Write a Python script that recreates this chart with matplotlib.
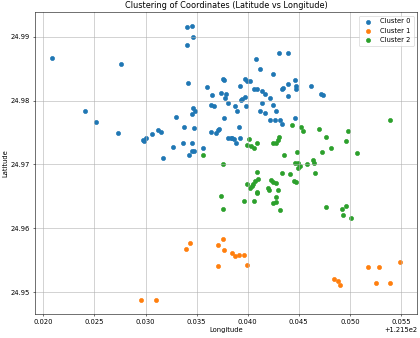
"""Scatter of coordinate clusters (latitude vs longitude)."""

import matplotlib
matplotlib.use("Agg")
import matplotlib.pyplot as plt

# cluster 0
lon0 = [121.52088, 121.52759, 121.53406, 121.53458, 121.53461, 121.53409, 121.53412, 121.53598,
        121.53654, 121.53762, 121.53765, 121.53742, 121.53791, 121.53781, 121.53804, 121.53641,
        121.53667, 121.52409, 121.53461, 121.53480, 121.53451, 121.53298, 121.53765, 121.52520,
        121.53379, 121.53477, 121.53720, 121.53710, 121.53644, 121.53690, 121.52729, 121.53122,
        121.53151, 121.53059, 121.53000, 121.52980, 121.52984, 121.53804, 121.53833, 121.53850,
        121.53870, 121.53922, 121.53370, 121.53451, 121.53265, 121.53451, 121.53475, 121.53563,
        121.53422, 121.53167, 121.54304, 121.54392, 121.54085, 121.54125, 121.54245, 121.53971,
        121.53990, 121.54026, 121.53928, 121.54461, 121.54396, 121.54350, 121.54340, 121.54474,
        121.54468, 121.54624, 121.54716, 121.54739, 121.54059, 121.54092, 121.54141, 121.54167,
        121.53971, 121.53945, 121.53931, 121.54222, 121.54396, 121.53879, 121.53987, 121.54141,
        121.54249, 121.53892, 121.54125, 121.54174, 121.54281, 121.54222, 121.54265, 121.54318,
        121.54461, 121.54333, 121.53916, 121.53886]
lat0 = [24.98672, 24.98569, 24.99156, 24.99172, 24.99000, 24.98875, 24.98281, 24.98219,
        24.98089, 24.98344, 24.98319, 24.98120, 24.98109, 24.98042, 24.97959, 24.97938,
        24.97913, 24.97839, 24.97881, 24.97839, 24.97792, 24.97745, 24.97725, 24.97667,
        24.97594, 24.97578, 24.97563, 24.97542, 24.97506, 24.97500, 24.97495, 24.97538,
        24.97511, 24.97475, 24.97417, 24.97381, 24.97366, 24.97422, 24.97413, 24.97422,
        24.97402, 24.97422, 24.97344, 24.97344, 24.97277, 24.97219, 24.97214, 24.97256,
        24.97156, 24.97109, 24.98741, 24.98741, 24.98656, 24.98491, 24.98422, 24.98344,
        24.98303, 24.98303, 24.98234, 24.98319, 24.98256, 24.98203, 24.98188, 24.98230,
        24.98188, 24.98234, 24.98100, 24.98089, 24.98178, 24.98183, 24.98152, 24.98100,
        24.98053, 24.98022, 24.98011, 24.98038, 24.98078, 24.97922, 24.97917, 24.97959,
        24.97928, 24.97844, 24.97839, 24.97813, 24.97834, 24.97698, 24.97694, 24.97698,
        24.97734, 24.97631, 24.97584, 24.97344]

# cluster 1
lon1 = [121.53755, 121.53713, 121.53765, 121.53843, 121.53873, 121.53916, 121.53961, 121.53713,
        121.53994, 121.54847, 121.54886, 121.54902, 121.55180, 121.55284, 121.55255, 121.55389,
        121.55487, 121.53438, 121.53399, 121.52955, 121.53098]
lat1 = [24.95834, 24.95741, 24.95656, 24.95609, 24.95558, 24.95584, 24.95584, 24.95413,
        24.95417, 24.95198, 24.95172, 24.95109, 24.95386, 24.95397, 24.95141, 24.95147,
        24.95463, 24.95772, 24.95667, 24.94870, 24.94878]

# cluster 2
lon2 = [121.53559, 121.53762, 121.54438, 121.54517, 121.54543, 121.54696, 121.54977, 121.55392,
        121.54769, 121.54958, 121.54311, 121.54298, 121.54014, 121.54095, 121.54249, 121.54275,
        121.53994, 121.54029, 121.54059, 121.54818, 121.54726, 121.54480, 121.55069, 121.54357,
        121.54461, 121.54494, 121.54512, 121.54490, 121.54582, 121.54637, 121.54651, 121.54654,
        121.54088, 121.54333, 121.54416, 121.54105, 121.54073, 121.54053, 121.54039, 121.54024,
        121.53990, 121.54229, 121.54252, 121.54275, 121.54458, 121.54471, 121.54196, 121.54213,
        121.54301, 121.54088, 121.54092, 121.54278, 121.54252, 121.54278, 121.53739, 121.53965,
        121.54066, 121.53762, 121.54321, 121.54769, 121.54958, 121.54919, 121.54935, 121.55014]
lat2 = [24.97147, 24.97000, 24.97625, 24.97584, 24.97522, 24.97563, 24.97531, 24.97694,
        24.97433, 24.97366, 24.97428, 24.97391, 24.97406, 24.97339, 24.97344, 24.97344,
        24.97303, 24.97292, 24.97256, 24.97256, 24.97198, 24.97198, 24.97188, 24.97144,
        24.97022, 24.97016, 24.96975, 24.96938, 24.97000, 24.97063, 24.97022, 24.96866,
        24.96875, 24.96859, 24.96844, 24.96766, 24.96741, 24.96688, 24.96667, 24.96625,
        24.96694, 24.96750, 24.96725, 24.96714, 24.96745, 24.96725, 24.96625, 24.96600,
        24.96600, 24.96573, 24.96553, 24.96491, 24.96397, 24.96406, 24.96511, 24.96422,
        24.96422, 24.96297, 24.96292, 24.96328, 24.96355, 24.96303, 24.96209, 24.96163]

clusters = [(lon0, lat0), (lon1, lat1), (lon2, lat2)]
labels = ["Cluster 0", "Cluster 1", "Cluster 2"]

DPI = 49
fig = plt.figure(figsize=(420 / DPI, 338 / DPI))
ax = fig.add_axes([0.0833, 0.071, 0.9095, 0.8926])
for (x, y), lab in zip(clusters, labels):
    ax.scatter(x, y, s=36, label=lab)

ax.set_title("Clustering of Coordinates (Latitude vs Longitude)")
ax.set_xlabel("Longitude")
ax.set_ylabel("Latitude")
ax.legend()
ax.grid(True)

fig.savefig("out.png", dpi=DPI)
